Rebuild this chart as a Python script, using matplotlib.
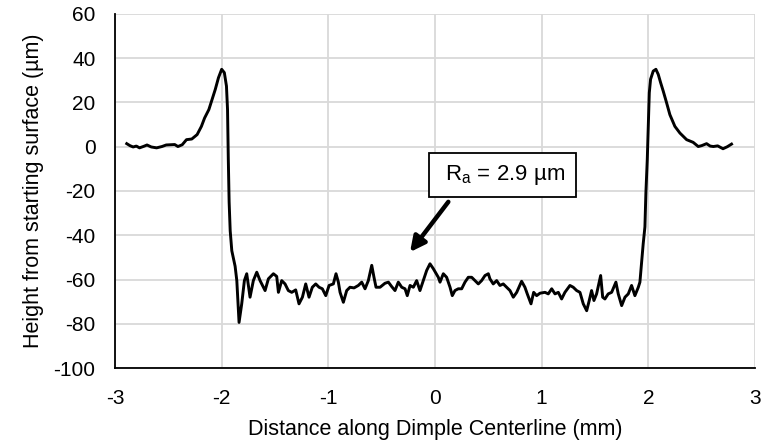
import matplotlib
matplotlib.use("Agg")
import matplotlib.pyplot as plt

plt.rcParams['font.family'] = ['Liberation Sans', 'DejaVu Sans']
plt.rcParams['axes.unicode_minus'] = False

distance_mm = [
    -2.89, -2.86, -2.83, -2.80, -2.77, -2.73, -2.70, -2.66, -2.61, -2.56,
    -2.52, -2.47, -2.44, -2.41, -2.37, -2.33, -2.28, -2.23, -2.19, -2.16,
    -2.12, -2.09, -2.06, -2.03, -2.00, -1.975, -1.955, -1.945, -1.938, -1.93,
    -1.92, -1.905, -1.874, -1.858, -1.837, -1.812, -1.787, -1.765, -1.734, -1.703,
    -1.671, -1.640, -1.624, -1.593, -1.562, -1.515, -1.484, -1.468, -1.437, -1.406,
    -1.375, -1.343, -1.306, -1.275, -1.243, -1.212, -1.181, -1.150, -1.118, -1.087,
    -1.056, -1.024, -0.993, -0.953, -0.928, -0.906, -0.890, -0.859, -0.828, -0.797,
    -0.759, -0.719, -0.687, -0.656, -0.625, -0.593, -0.572, -0.553, -0.515, -0.469,
    -0.437, -0.406, -0.375, -0.344, -0.312, -0.281, -0.260, -0.234, -0.203, -0.172,
    -0.141, -0.110, -0.078, -0.047, -0.016, 0.031, 0.047, 0.078, 0.109, 0.141,
    0.162, 0.187, 0.218, 0.250, 0.281, 0.312, 0.344, 0.375, 0.406, 0.437,
    0.469, 0.500, 0.515, 0.546, 0.578, 0.609, 0.640, 0.672, 0.703, 0.734,
    0.766, 0.787, 0.812, 0.843, 0.865, 0.900, 0.925, 0.953, 0.984, 1.031,
    1.062, 1.094, 1.125, 1.156, 1.187, 1.218, 1.265, 1.296, 1.328, 1.359,
    1.390, 1.422, 1.446, 1.468, 1.490, 1.515, 1.553, 1.572, 1.593, 1.624,
    1.656, 1.696, 1.718, 1.750, 1.781, 1.812, 1.843, 1.874, 1.906, 1.921,
    1.937, 1.952, 1.968, 1.977, 1.990, 1.999, 2.009, 2.021, 2.046, 2.071,
    2.093, 2.115, 2.140, 2.171, 2.202, 2.249, 2.296, 2.359, 2.420, 2.468,
    2.50, 2.546, 2.58, 2.61, 2.65, 2.70, 2.74, 2.78,
]

height_um = [
    1.4, 0.5, -0.1, 0.3, -0.5, 0.2, 0.8, -0.1, -0.5, 0.1,
    0.8, 0.9, 1.0, 0.1, 0.9, 3.2, 3.5, 5.5, 9.2, 13.0,
    16.8, 21.4, 25.9, 31.2, 35.0, 33.5, 27.4, 16.8, -5.0, -25.0,
    -38.0, -47.0, -54.0, -60.5, -79.4, -71.0, -60.5, -57.4, -68.0, -60.5,
    -56.7, -60.5, -62.0, -65.0, -59.7, -57.4, -58.6, -65.8, -60.5, -62.0,
    -65.0, -65.8, -64.7, -71.0, -68.0, -62.0, -68.0, -63.5, -62.0, -63.5,
    -64.2, -67.3, -62.7, -62.0, -57.4, -61.2, -65.8, -70.3, -65.0, -63.5,
    -63.8, -62.7, -61.2, -64.2, -60.5, -53.6, -59.0, -63.5, -63.5, -61.7,
    -61.2, -63.2, -65.0, -61.2, -63.5, -64.2, -67.3, -62.7, -63.5, -60.5,
    -65.0, -60.5, -55.9, -52.9, -55.1, -59.0, -61.2, -57.4, -59.0, -63.5,
    -67.3, -65.0, -64.2, -64.2, -61.2, -59.0, -59.0, -60.5, -62.0, -60.5,
    -58.2, -57.4, -59.7, -62.0, -60.5, -62.7, -62.0, -63.5, -65.0, -68.0,
    -65.8, -63.5, -60.8, -63.5, -66.5, -71.0, -65.8, -67.3, -66.2, -65.8,
    -66.5, -64.2, -66.5, -65.8, -68.8, -65.8, -62.7, -63.5, -65.0, -65.8,
    -71.0, -74.1, -69.5, -65.0, -69.5, -66.5, -58.2, -68.0, -68.8, -66.5,
    -65.8, -61.2, -66.5, -71.8, -68.0, -66.5, -62.7, -67.3, -63.5, -61.2,
    -52.0, -43.8, -36.2, -21.0, -5.9, 9.2, 24.4, 30.5, 34.2, 35.0,
    32.7, 29.0, 25.1, 19.9, 14.5, 9.2, 6.2, 3.2, 2.0, 0.1,
    0.5, 1.4, 0.3, 0.1, 0.4, -0.9, 0.0, 1.2,
]

x_ticks = [-3, -2, -1, 0, 1, 2, 3]
y_ticks = [-100, -80, -60, -40, -20, 0, 20, 40, 60]
x_label = "Distance along Dimple Centerline (mm)"
y_label = "Height from starting surface (µm)"
annotation_text = r" R$_\mathregular{a}$ = 2.9 µm "

fig = plt.figure(figsize=(7.63, 4.40), dpi=100)
ax = fig.add_axes([115 / 763, 72 / 440, 640 / 763, 354 / 440])

ax.plot(distance_mm, height_um, color="black", linewidth=2.1, zorder=3,
        solid_joinstyle="round")

ax.set_xlim(-3, 3)
ax.set_ylim(-100, 60)
ax.set_xticks(x_ticks)
ax.set_yticks(y_ticks)
ax.grid(True, color="#d9d9d9", linewidth=1.3)
ax.set_axisbelow(True)
for s in ["top", "right"]:
    ax.spines[s].set_visible(False)
for s in ["left", "bottom"]:
    ax.spines[s].set_linewidth(1.3)
    ax.spines[s].set_zorder(4)
ax.tick_params(length=0, labelsize=15, colors="black")
ax.tick_params(axis="x", pad=15)
ax.tick_params(axis="y", pad=14)
ax.set_xlabel(x_label, fontsize=15.5, labelpad=8)
ax.set_ylabel(y_label, fontsize=15.5, labelpad=7)

ax.annotate(
    "", xy=(-0.234, -47.6), xytext=(0.125, -24.9),
    arrowprops=dict(arrowstyle="-|>,head_length=0.9,head_width=0.45",
                    color="black", linewidth=3.2, shrinkA=0, shrinkB=0),
    zorder=5,
)
ax.text(0.633, -12.9, annotation_text, fontsize=16, ha="center", va="center",
        bbox=dict(boxstyle="square,pad=0.45", facecolor="white",
                  edgecolor="black", linewidth=1.3), zorder=6)

fig.savefig("out.png", dpi=100)
